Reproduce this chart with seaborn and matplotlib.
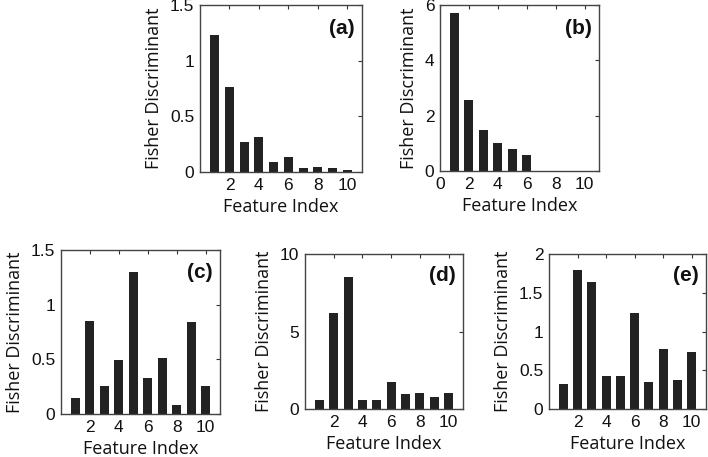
import numpy as np
import pandas as pd
import matplotlib
matplotlib.use("Agg")
import matplotlib.pyplot as plt
import seaborn as sns

# Fisher discriminant per feature
feature_idx = list(range(1, 11))
fisher_a = [1.23, 0.76, 0.27, 0.31, 0.09, 0.135, 0.035, 0.045, 0.035, 0.02]
fisher_b = [5.70, 2.58, 1.47, 1.03, 0.81, 0.57, 0.0, 0.0, 0.0, 0.0]
fisher_c = [0.146, 0.855, 0.26, 0.49, 1.296, 0.33, 0.508, 0.082, 0.837, 0.26]
fisher_d = [0.6, 6.2, 8.5, 0.6, 0.6, 1.73, 0.97, 1.04, 0.8, 1.04]
fisher_e = [0.32, 1.79, 1.64, 0.43, 0.43, 1.24, 0.35, 0.77, 0.38, 0.73]

panel_labels = ["(a)", "(b)", "(c)", "(d)", "(e)"]
y_ticks = [
    [0, 0.5, 1, 1.5],
    [0, 2, 4, 6],
    [0, 0.5, 1, 1.5],
    [0, 5, 10],
    [0, 0.5, 1, 1.5, 2],
]
y_tick_labels = [
    ["0", "0.5", "1", "1.5"],
    ["0", "2", "4", "6"],
    ["0", "0.5", "1", "1.5"],
    ["0", "5", "10"],
    ["0", "0.5", "1", "1.5", "2"],
]
x_ticks = [
    [2, 4, 6, 8, 10],
    [0, 2, 4, 6, 8, 10],
    [2, 4, 6, 8, 10],
    [2, 4, 6, 8, 10],
    [2, 4, 6, 8, 10],
]

sns.set_theme(style="white")
plt.rcParams["font.family"] = ["Liberation Sans", "DejaVu Sans"]

W, H = 708, 457
fig = plt.figure(figsize=(W / 100, H / 100), dpi=100)

# axes boxes in pixels: left, top, right, bottom
boxes = [
    (200, 5, 362, 172),
    (440, 5, 599, 171),
    (61, 250, 220, 414),
    (305, 254, 463, 409),
    (549, 254, 706, 409),
]

all_vals = [fisher_a, fisher_b, fisher_c, fisher_d, fisher_e]

for i, vals in enumerate(all_vals):
    l, t, r, b = boxes[i]
    ax = fig.add_axes([l / W, (H - b) / H, (r - l) / W, (b - t) / H])
    df = pd.DataFrame({"feature": feature_idx, "fisher": vals})
    sns.barplot(data=df, x="feature", y="fisher", native_scale=True,
                width=0.62, color="#222222", saturation=1,
                edgecolor="#222222", linewidth=0, ax=ax)
    ax.set_xlim(0, 11)
    ax.set_ylim(y_ticks[i][0], y_ticks[i][-1])
    ax.set_xticks(x_ticks[i])
    ax.set_xticklabels([str(v) for v in x_ticks[i]])
    ax.set_yticks(y_ticks[i])
    ax.set_yticklabels(y_tick_labels[i])
    ax.tick_params(direction="in", length=3, width=0.8, color="#333333",
                   top=True, right=True, labelsize=12.5, pad=4,
                   labelcolor="#111111")
    for sp in ax.spines.values():
        sp.set_color("#444444")
        sp.set_linewidth(1.0)
    ax.set_xlabel("Feature Index", fontsize=13, family=["Open Sans", "DejaVu Sans"],
                  color="#111111", labelpad=4)
    ax.set_ylabel("Fisher Discriminant", fontsize=13, family=["Open Sans", "DejaVu Sans"],
                  color="#111111", labelpad=5)
    ax.text(0.955, 0.86, panel_labels[i], transform=ax.transAxes, ha="right",
            va="center", fontsize=15, fontweight="bold", color="#111111")

fig.savefig("out.png", dpi=100)
